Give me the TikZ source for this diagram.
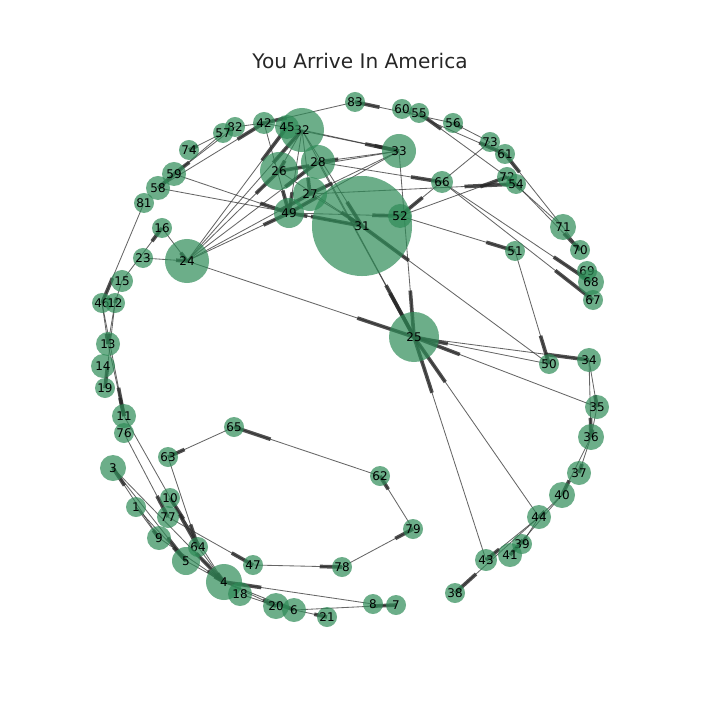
\documentclass[tikz,border=0pt]{standalone}
\usepackage{fontspec}
\setmainfont{DejaVu Sans}
\usetikzlibrary{calc,backgrounds}
\definecolor{seagreen}{HTML}{2E8B57}
\tikzset{
  vtx/.style={circle, fill=seagreen, fill opacity=0.7, text opacity=1, inner sep=0pt,
    minimum size=#1*0.05cm, font=\fontsize{8.5}{10}\selectfont},
  vtx/.default=10,
  link/.style={draw=black!80, opacity=0.75, line width=0.6pt},
  stub/.style={draw=black!85, opacity=0.8, line width=2.6pt}
}

\begin{document}
\begin{tikzpicture}[x=0.025cm,y=-0.025cm]
    \useasboundingbox (0,0) rectangle (720,720);
    \node[font=\fontsize{14.3}{17}\selectfont, text=black!85] (title) at (360,61) {You Arrive In America};

    % vertices: name/x/y/radius
    \foreach \n/\x/\y/\r in {83/355/102/10, 60/402/109/10, 55/419/113/10, 56/453/123/10,
        73/490/142/10, 61/505/154/10, 72/507/177/10, 54/516/184/10, 66/442/182/11,
        33/399/151/17, 32/302/130/22, 45/287/127/12, 42/264/123/11, 82/235/127/10,
        57/223/133/10, 74/189/150/10, 59/174/174/12, 58/158/188/12, 81/144/203/10,
        28/318/162/17, 26/279/171/19, 27/310/194/17, 49/289/213/15, 31/362/226/50,
        52/400/216/12, 16/162/228/10, 23/143/258/10, 24/187/261/22, 15/122/281/11,
        46/102/303/10, 12/115/303/10, 13/108/344/12, 14/103/366/12, 19/105/388/10,
        11/124/416/12, 76/124/433/10, 71/563/227/13, 70/580/250/10, 69/587/271/10,
        68/591/282/13, 67/593/300/10, 51/515/251/10, 25/414/337/25, 50/549/364/10,
        34/589/360/12, 35/597/407/12, 36/591/437/13, 37/579/473/12, 40/562/495/13,
        44/539/517/12, 39/522/544/10, 41/510/555/12, 43/486/560/11, 38/455/593/10,
        65/234/427/10, 63/168/457/10, 62/380/476/10, 79/413/529/10, 3/113/468/13,
        1/136/507/10, 10/170/498/10, 77/168/517/11, 9/159/538/12, 64/198/547/10,
        5/186/561/14, 47/253/565/10, 78/342/567/10, 4/224/582/18, 18/240/594/12,
        20/276/606/13, 6/294/610/12, 21/327/617/10, 8/373/604/10, 7/396/605/10}
        \node[vtx=\r] (n\n) at (\x,\y) {\n};

    % directed links, thick stub marks the head end
    \begin{pgfonlayer}{background}
    \foreach \s/\t in {56/83, 83/42, 72/55, 73/56, 60/61, 71/61, 71/72, 54/70,
        71/70, 66/67, 66/68, 73/52, 52/72, 27/54, 28/66, 32/33, 33/28, 33/27, 33/49,
        33/26, 33/25, 32/25, 28/25, 32/26, 32/49, 32/27, 32/31, 26/31, 27/31, 31/49,
        49/52, 52/51, 51/50, 50/31, 50/25, 25/34, 35/25, 44/25, 43/25, 24/25, 34/35,
        34/36, 35/36, 36/37, 36/40, 40/44, 44/43, 44/39, 44/38, 40/41,
        24/26, 24/49, 24/45, 24/32, 24/28, 24/27,
        16/24, 23/24, 15/16, 15/12, 81/46, 46/13, 12/13, 46/11, 12/19, 13/11,
        59/49, 58/31, 82/59, 57/58, 58/42, 57/74, 82/42, 42/49, 42/33,
        11/64, 76/77, 63/64, 65/63, 62/65, 79/62, 78/79, 47/78, 77/47, 4/10,
        9/3, 3/5, 3/4, 1/5, 1/9, 9/4, 5/4, 64/4, 8/4, 6/7, 18/20, 4/20, 4/6, 20/21}
    {
        \draw[link] (n\s.center) -- (n\t.center);
        \draw[stub] ($(n\s.center)!0.75!(n\t.center)$) -- (n\t.center);
    }
    \end{pgfonlayer}
\end{tikzpicture}
\end{document}
